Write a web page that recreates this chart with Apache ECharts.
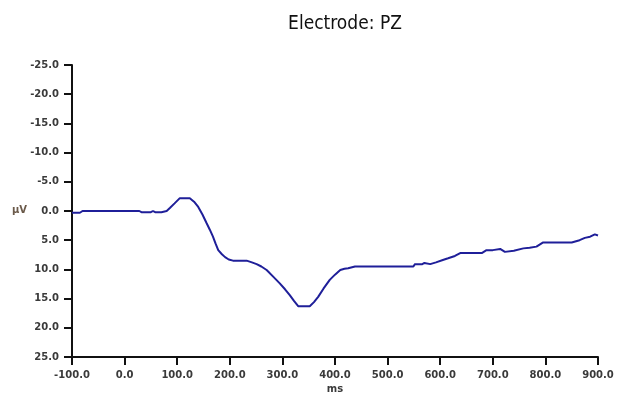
<!DOCTYPE html>
<html>
<head>
<meta charset="utf-8">
<script src="https://cdn.jsdelivr.net/npm/echarts@6/dist/echarts.min.js"></script>
<style>
    html, body { margin: 0; padding: 0; background: #fff; }
    #main { width: 619px; height: 402px; }
</style>
</head>
<body>
<div id="main"></div>
<script>
// waveform: time in ms, amplitude in µV
var timeMs = [-100, -85, -80, 28, 32, 50, 54, 58, 70, 80, 86, 95, 105, 124, 132, 140, 148, 156, 162, 168, 173, 178, 185, 191, 198, 206, 232, 242, 251, 260, 270, 282, 295, 305, 314, 322, 330, 352, 360, 368, 378, 390, 400, 410, 418, 425, 438, 549, 552, 566, 570, 581, 592, 605, 615, 628, 638, 679, 688, 700, 714, 723, 740, 758, 770, 783, 795, 850, 853, 865, 875, 885, 894, 900];
var uV = [0.3, 0.3, 0.0, 0.0, 0.2, 0.2, 0.0, 0.2, 0.2, 0.0, -0.5, -1.3, -2.2, -2.2, -1.6, -0.7, 0.6, 2.1, 3.2, 4.4, 5.6, 6.7, 7.4, 7.9, 8.3, 8.5, 8.5, 8.8, 9.1, 9.5, 10.1, 11.2, 12.4, 13.4, 14.4, 15.4, 16.3, 16.3, 15.6, 14.7, 13.3, 11.8, 10.9, 10.1, 9.9, 9.8, 9.5, 9.5, 9.1, 9.1, 8.9, 9.1, 8.8, 8.4, 8.1, 7.7, 7.2, 7.2, 6.7, 6.7, 6.5, 7.0, 6.8, 6.4, 6.3, 6.1, 5.4, 5.4, 5.1, 5.0, 4.6, 4.4, 4.0, 4.2];

var xTicks = { min: -100, max: 900, step: 100 };
var yTicks = { min: -25, max: 25, step: 5 };

var seriesData = [];
for (var i = 0; i < timeMs.length; i++) {
    seriesData.push([timeMs[i], uV[i]]);
}

var labelFont = {
    fontFamily: 'DejaVu Sans',
    fontWeight: 'bold',
    fontSize: 10,
    color: '#3a3a3a'
};

var myChart = echarts.init(document.getElementById('main'));
var option = {
    backgroundColor: '#ffffff',
    animation: false,
    title: {
        text: 'Electrode: PZ',
        left: 340,
        top: 10,
        textAlign: 'center',
        textStyle: {
            fontFamily: 'DejaVu Sans Condensed',
            fontWeight: 'normal',
            fontSize: 19,
            color: '#111'
        }
    },
    grid: {
        left: 72,
        right: 21,
        top: 65,
        bottom: 45
    },
    xAxis: {
        type: 'value',
        min: xTicks.min,
        max: xTicks.max,
        interval: xTicks.step,
        name: 'ms',
        nameLocation: 'middle',
        nameGap: 27,
        nameTextStyle: labelFont,
        axisLine: { onZero: false, lineStyle: { color: '#111', width: 2 } },
        axisTick: { length: 8, lineStyle: { color: '#111', width: 2 } },
        axisLabel: {
            fontFamily: labelFont.fontFamily,
            fontWeight: labelFont.fontWeight,
            fontSize: labelFont.fontSize,
            color: labelFont.color,
            margin: 13,
            formatter: function (v) { return v.toFixed(1); }
        },
        splitLine: { show: false }
    },
    yAxis: {
        type: 'value',
        inverse: true,
        min: yTicks.min,
        max: yTicks.max,
        interval: yTicks.step,
        axisLine: { onZero: false, lineStyle: { color: '#111', width: 2 } },
        axisTick: { length: 8, lineStyle: { color: '#111', width: 2 } },
        axisLabel: {
            fontFamily: labelFont.fontFamily,
            fontWeight: labelFont.fontWeight,
            fontSize: labelFont.fontSize,
            color: labelFont.color,
            margin: 13,
            formatter: function (v) { return v.toFixed(1); }
        },
        splitLine: { show: false }
    },
    graphic: [{
        type: 'text',
        left: 12,
        top: 205,
        style: {
            text: 'µV',
            fontFamily: 'DejaVu Sans',
            fontWeight: 'bold',
            fontSize: 10,
            fill: '#6b5a4a'
        }
    }],
    series: [{
        type: 'line',
        data: seriesData,
        showSymbol: false,
        lineStyle: { color: '#1f1f99', width: 2 },
        itemStyle: { color: '#1f1f99' }
    }]
};
myChart.setOption(option);
</script>
</body>
</html>
